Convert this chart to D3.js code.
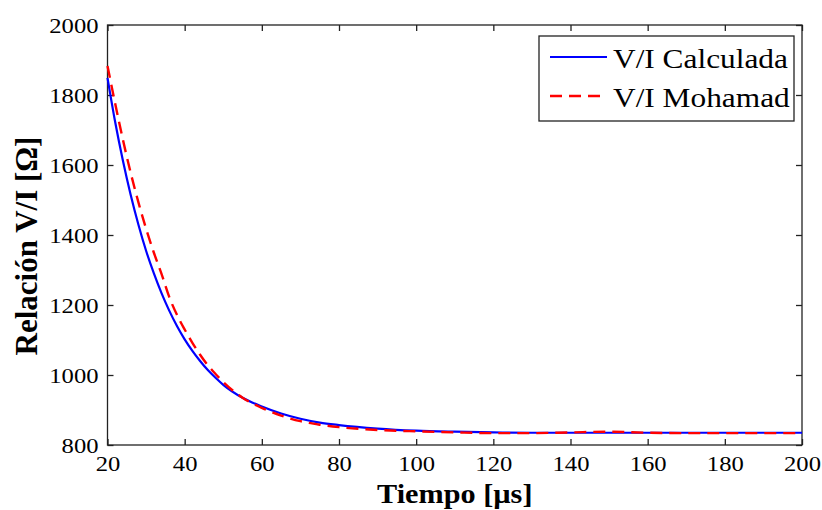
<!DOCTYPE html>
<html>
<head>
<meta charset="utf-8">
<script src="https://cdn.jsdelivr.net/npm/d3@7"></script>
<style>
  body { margin: 0; background: #fff; }
  svg text { font-family: "Liberation Serif", "Times New Roman", serif; fill: #000; }
</style>
</head>
<body>
<script>
// tiempo [us] and V/I values
var tCalc = [20, 22, 24, 26, 28, 30, 32, 34, 36, 38, 40, 42, 44, 46, 48, 50, 55, 60, 65, 70, 75, 80, 90, 100, 110, 120, 130, 140, 150, 160, 170, 180, 190, 200];
var vCalc = [1849, 1722, 1612, 1515, 1430, 1355, 1291, 1234, 1184, 1140, 1102, 1069, 1040, 1014, 992, 972, 935, 910, 890, 875, 864, 857, 847, 841, 838, 836, 835, 835, 835, 835, 835, 835, 835, 835];

var tMoh = [20, 22, 24, 26, 28, 30, 32, 34, 36, 38, 40, 42, 44, 46, 48, 50, 55, 60, 65, 70, 75, 80, 90, 100, 110, 120, 130, 140, 150, 160, 170, 180, 190, 200];
var vMoh = [1883, 1775, 1672, 1578, 1494, 1418, 1350, 1289, 1223, 1172, 1130, 1092, 1058, 1028, 1003, 980, 935, 906, 884, 868, 858, 851, 843, 839, 836, 834, 834, 836, 838, 835, 834, 834, 834, 834];

var seriesNames = ["V/I Calculada", "V/I Mohamad"];
var seriesColours = ["#0000ff", "#ff0000"];

var xTicks = [20, 40, 60, 80, 100, 120, 140, 160, 180, 200];
var yTicks = [800, 1000, 1200, 1400, 1600, 1800, 2000];

var width = 822, height = 510;
var margin = {left: 107.5, right: 20, top: 25, bottom: 65};
var stretch = 1.12;

var svg = d3.select("body").append("svg")
            .attr("width", width)
            .attr("height", height);

var x = d3.scaleLinear().domain([20, 200]).range([margin.left, width - margin.right]);
var y = d3.scaleLinear().domain([800, 2000]).range([height - margin.bottom, margin.top]);

function styleAxis(g){
  g.select(".domain").remove();
  g.selectAll("line").attr("stroke", "#222").attr("stroke-width", 1.3);
  g.selectAll("text").attr("font-size", 22).attr("fill", "#000");
}

// bottom and left axes, ticks pointing inwards
svg.append("g")
   .attr("transform", "translate(0," + y(800) + ")")
   .call(d3.axisBottom(x).tickValues(xTicks).tickSize(-6).tickPadding(10).tickFormat(d3.format("d")))
   .call(styleAxis)
   .selectAll("text").attr("transform", "scale(" + stretch + ",1)");

svg.append("g")
   .attr("transform", "translate(" + x(20) + ",0)")
   .call(d3.axisLeft(y).tickValues(yTicks).tickSize(-6).tickPadding(8).tickFormat(d3.format("d")))
   .call(styleAxis)
   .selectAll("text").attr("transform", "scale(" + stretch + ",1)");

// top and right ticks without labels
svg.append("g")
   .attr("transform", "translate(0," + y(2000) + ")")
   .call(d3.axisTop(x).tickValues(xTicks).tickSize(-6).tickFormat(""))
   .call(styleAxis);

svg.append("g")
   .attr("transform", "translate(" + x(200) + ",0)")
   .call(d3.axisRight(y).tickValues(yTicks).tickSize(-6).tickFormat(""))
   .call(styleAxis);

// box
svg.append("rect")
   .attr("x", x(20)).attr("y", y(2000))
   .attr("width", x(200) - x(20)).attr("height", y(800) - y(2000))
   .attr("fill", "none").attr("stroke", "#222").attr("stroke-width", 1.3);

var lineFunction = d3.line()
                     .x(function(d) { return x(d[0]); })
                     .y(function(d) { return y(d[1]); })
                     .curve(d3.curveMonotoneX);

svg.append("path")
   .attr("d", lineFunction(d3.zip(tCalc, vCalc)))
   .attr("stroke", seriesColours[0])
   .attr("stroke-width", 2.2)
   .attr("fill", "none");

svg.append("path")
   .attr("d", lineFunction(d3.zip(tMoh, vMoh)))
   .attr("stroke", seriesColours[1])
   .attr("stroke-width", 2.4)
   .attr("stroke-dasharray", "12,7")
   .attr("fill", "none");

// axis titles
svg.append("text")
   .attr("x", (x(20) + x(200)) / 2 / stretch)
   .attr("y", 503)
   .attr("text-anchor", "middle")
   .attr("font-size", 27)
   .attr("font-weight", "bold")
   .attr("transform", "scale(" + stretch + ",1)")
   .text("Tiempo [µs]");

svg.append("text")
   .attr("transform", "translate(37,246) rotate(-90)")
   .attr("text-anchor", "middle")
   .attr("font-size", 31)
   .attr("font-weight", "bold")
   .text("Relación V/I [Ω]");

// legend
var legend = svg.append("g");
legend.append("rect")
      .attr("x", 539).attr("y", 36)
      .attr("width", 255).attr("height", 85)
      .attr("fill", "#fff").attr("stroke", "#222").attr("stroke-width", 1.3);

var legendRows = [{y: 57, dash: null}, {y: 96, dash: "12,7"}];
legendRows.forEach(function(r, i){
  legend.append("line")
        .attr("x1", 550).attr("x2", 607)
        .attr("y1", r.y).attr("y2", r.y)
        .attr("stroke", seriesColours[i])
        .attr("stroke-width", i == 0 ? 2.2 : 2.4)
        .attr("stroke-dasharray", r.dash);
  legend.append("text")
        .attr("x", 613 / stretch)
        .attr("y", r.y + 11)
        .attr("font-size", 28)
        .attr("transform", "scale(" + stretch + ",1)")
        .text(seriesNames[i]);
});
</script>
</body>
</html>
